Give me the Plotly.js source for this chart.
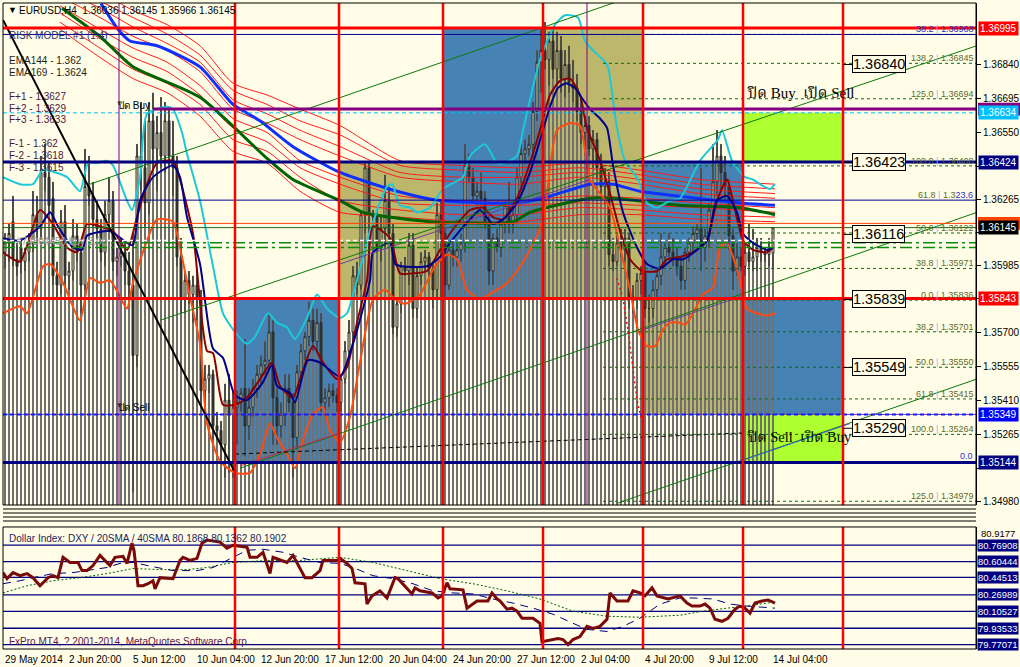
<!DOCTYPE html>
<html><head><meta charset="utf-8">
<script src="https://cdn.plot.ly/plotly-3.0.1.min.js"></script>
<style>html,body{margin:0;padding:0;background:#FFFDE7;}#chart{width:1020px;height:667px;}</style>
</head><body><div id="chart"></div>
<script>
// ---------------- DATA ----------------
const candleOpen = [1.3604,1.3608,1.3617,1.3601,1.3606,1.3600,1.3604,1.3608,1.3620,1.3614,
1.3638,1.3636,1.3627,1.3594,1.3590,1.3617,1.3594,1.3596,1.3611,1.3604,
1.3590,1.3632,1.3628,1.3618,1.3614,1.3604,1.3620,1.3626,1.3600,1.3602,
1.3604,1.3596,1.3590,1.3560,1.3645,1.3640,1.3625,1.3660,1.3648,1.3655,
1.3645,1.3660,1.3645,1.3640,1.3602,1.3584,1.3592,1.3586,1.3590,1.3584,
1.3545,1.3550,1.3552,1.3530,1.3528,1.3522,1.3541,1.3535,1.3538,1.3540,
1.3546,1.3530,1.3538,1.3546,1.3552,1.3556,1.3558,1.3570,1.3542,1.3530,
1.3535,1.3546,1.3540,1.3525,1.3553,1.3562,1.3568,1.3575,1.3566,1.3574,
1.3540,1.3542,1.3545,1.3543,1.3540,1.3550,1.3562,1.3570,1.3594,1.3590,
1.3620,1.3640,1.3620,1.3619,1.3606,1.3614,1.3626,1.3612,1.3572,1.3582,
1.3598,1.3596,1.3607,1.3580,1.3594,1.3600,1.3602,1.3597,1.3588,1.3620,
1.3612,1.3590,1.3605,1.3602,1.3605,1.3608,1.3641,1.3636,1.3628,1.3630,
1.3627,1.3617,1.3596,1.3610,1.3606,1.3616,1.3624,1.3616,1.3620,1.3636,
1.3646,1.3648,1.3650,1.3664,1.3685,1.3690,1.3686,1.3694,1.3682,1.3690,
1.3678,1.3684,1.3676,1.3674,1.3664,1.3655,1.3658,1.3648,1.3652,1.3640,
1.3632,1.3634,1.3603,1.3600,1.3608,1.3605,1.3610,1.3585,1.3584,1.3592,
1.3595,1.3580,1.3580,1.3588,1.3594,1.3602,1.3606,1.3604,1.3602,1.3598,
1.3592,1.3604,1.3608,1.3612,1.3614,1.3606,1.3611,1.3622,1.3634,1.3645,
1.3638,1.3632,1.3611,1.3596,1.3602,1.3598,1.3604,1.3600,1.3602,1.3606,
1.3604,1.3603,1.36036];
const candleHigh = [1.3612,1.3616,1.3628,1.3608,1.3610,1.3606,1.3612,1.3630,1.3628,1.3645,
1.3650,1.3642,1.3634,1.3600,1.3622,1.3624,1.3600,1.3618,1.3616,1.3608,
1.3648,1.3645,1.3634,1.3626,1.3618,1.3626,1.3636,1.3630,1.3606,1.3610,
1.3608,1.3604,1.3612,1.3650,1.3668,1.3660,1.3668,1.3672,1.3662,1.3670,
1.3668,1.3666,1.3660,1.3645,1.3610,1.3596,1.3596,1.3594,1.3596,1.3588,
1.3556,1.3556,1.3554,1.3536,1.3532,1.3548,1.3552,1.3545,1.3545,1.3546,
1.3567,1.3546,1.3550,1.3556,1.3560,1.3566,1.3578,1.3575,1.3546,1.3540,
1.3552,1.3552,1.3544,1.3556,1.3565,1.3570,1.3583,1.3580,1.3580,1.3578,
1.3546,1.3548,1.3548,1.3546,1.3552,1.3566,1.3575,1.3598,1.3600,1.3622,
1.3642,1.3642,1.3622,1.3622,1.3620,1.3637,1.3632,1.3616,1.3584,1.3600,
1.3602,1.3612,1.3612,1.3598,1.3604,1.3605,1.3604,1.3600,1.3625,1.3626,
1.3614,1.3608,1.3610,1.3608,1.3612,1.3650,1.3646,1.3640,1.3634,1.3638,
1.3630,1.3620,1.3612,1.3614,1.3618,1.3626,1.3634,1.3624,1.3640,1.3650,
1.3652,1.3654,1.3668,1.3690,1.3700,1.3702,1.3698,1.3700,1.3698,1.3696,
1.3690,1.3692,1.3686,1.3680,1.3670,1.3662,1.3662,1.3656,1.3655,1.3646,
1.3640,1.3638,1.3610,1.3612,1.3614,1.3614,1.3612,1.3590,1.3595,1.3598,
1.3600,1.3586,1.3592,1.3596,1.3612,1.3608,1.3612,1.3610,1.3606,1.3602,
1.3606,1.3610,1.3615,1.3616,1.3640,1.3614,1.3625,1.3650,1.3656,1.3650,
1.3645,1.3635,1.3614,1.3608,1.3606,1.3608,1.3616,1.3614,1.3610,1.3610,
1.3606,1.3610,1.36145];
const candleLow = [1.3597,1.3600,1.3598,1.3594,1.3595,1.3596,1.3600,1.3604,1.3610,1.3610,
1.3630,1.3620,1.3590,1.3584,1.3586,1.3590,1.3588,1.3592,1.3600,1.3578,
1.3588,1.3624,1.3615,1.3610,1.3600,1.3598,1.3614,1.3596,1.3594,1.3598,
1.3590,1.3585,1.3502,1.3555,1.3630,1.3615,1.3620,1.3640,1.3630,1.3640,
1.3638,1.3640,1.3628,1.3598,1.3578,1.3578,1.3582,1.3574,1.3575,1.3538,
1.3540,1.3544,1.3524,1.3524,1.3515,1.3508,1.3510,1.3508,1.3522,1.3536,
1.3517,1.3524,1.3534,1.3542,1.3548,1.3552,1.3554,1.3522,1.3522,1.3525,
1.3530,1.3536,1.3508,1.3520,1.3550,1.3558,1.3564,1.3562,1.3562,1.3536,
1.3534,1.3538,1.3540,1.3536,1.3536,1.3548,1.3558,1.3566,1.3586,1.3588,
1.3612,1.3598,1.3616,1.3604,1.3600,1.3606,1.3608,1.3569,1.3568,1.3578,
1.3594,1.3590,1.3576,1.3576,1.3590,1.3596,1.3594,1.3580,1.3584,1.3585,
1.3585,1.3588,1.3598,1.3598,1.3600,1.3604,1.3634,1.3625,1.3624,1.3624,
1.3614,1.3590,1.3590,1.3604,1.3602,1.3612,1.3612,1.3612,1.3616,1.3632,
1.3642,1.3645,1.3644,1.3660,1.3672,1.3682,1.3675,1.3678,1.3676,1.3672,
1.3670,1.3672,1.3668,1.3660,1.3650,1.3645,1.3645,1.3640,1.3635,1.3628,
1.3625,1.3598,1.3596,1.3598,1.3602,1.3600,1.3580,1.3578,1.3580,1.3586,
1.3576,1.3574,1.3576,1.3584,1.3590,1.3598,1.3602,1.3598,1.3594,1.3588,
1.3588,1.3600,1.3604,1.3608,1.3596,1.3600,1.3606,1.3618,1.3628,1.3630,
1.3625,1.3605,1.3588,1.3594,1.3596,1.3594,1.3598,1.3596,1.3596,1.3600,
1.3600,1.3598,1.35966];
const candleClose = [1.3608,1.3612,1.3601,1.3598,1.3600,1.3604,1.3608,1.3620,1.3614,1.3638,
1.3636,1.3624,1.3594,1.3590,1.3617,1.3594,1.3596,1.3611,1.3604,1.3590,
1.3632,1.3628,1.3618,1.3614,1.3604,1.3620,1.3626,1.3600,1.3602,1.3604,
1.3596,1.3590,1.3560,1.3645,1.3640,1.3625,1.3660,1.3648,1.3655,1.3645,
1.3660,1.3645,1.3640,1.3602,1.3584,1.3592,1.3586,1.3590,1.3584,1.3545,
1.3550,1.3552,1.3530,1.3528,1.3522,1.3541,1.3535,1.3538,1.3540,1.3544,
1.3530,1.3538,1.3546,1.3552,1.3556,1.3558,1.3570,1.3542,1.3530,1.3535,
1.3546,1.3540,1.3525,1.3553,1.3562,1.3568,1.3575,1.3566,1.3574,1.3540,
1.3542,1.3545,1.3543,1.3540,1.3550,1.3562,1.3570,1.3594,1.3590,1.3620,
1.3640,1.3620,1.3619,1.3606,1.3614,1.3626,1.3612,1.3572,1.3582,1.3598,
1.3596,1.3607,1.3580,1.3594,1.3600,1.3602,1.3597,1.3588,1.3620,1.3612,
1.3590,1.3605,1.3602,1.3605,1.3608,1.3641,1.3636,1.3628,1.3630,1.3627,
1.3617,1.3596,1.3610,1.3606,1.3616,1.3624,1.3616,1.3620,1.3636,1.3646,
1.3648,1.3650,1.3664,1.3685,1.3690,1.3686,1.3694,1.3682,1.3690,1.3678,
1.3684,1.3676,1.3674,1.3664,1.3655,1.3658,1.3648,1.3652,1.3640,1.3632,
1.3634,1.3603,1.3600,1.3608,1.3605,1.3610,1.3585,1.3584,1.3592,1.3595,
1.3580,1.3580,1.3588,1.3594,1.3602,1.3606,1.3604,1.3602,1.3598,1.3592,
1.3604,1.3608,1.3612,1.3614,1.3606,1.3611,1.3622,1.3634,1.3645,1.3638,
1.3632,1.3611,1.3596,1.3602,1.3598,1.3604,1.3600,1.3602,1.3606,1.3604,
1.3603,1.3606,1.36145];

// fast MAs (bar index / price)
const navyX = [-0.5,3.75,8.75,11.25,13.25,17,19.25,20.5,26.25,30.5,32,33.75,37,42,43.75,45.5,48.75,52,54.5,57.5,60.5,64.25,66.75,68,71.25,72.5,75.75,78.75,83.75,87,91.25,92,96.25,97.5,99.25,105.5,108.75,111.25,116.25,118.75,122,124.5,128,131.25,134.5,136.25,138.25,140.25,142.5,144.5,146.25,148.75,150.5,152,154.5,158,160.5,163.75,167,169.5,173,175.5,178,180.5,183,184.5,187,190.5,192];
const navyY = [1.3610,1.3609,1.3615,1.3621,1.3615,1.3606,1.3605,1.3611,1.3613,1.3608,1.3607,1.3626,1.3636,1.3641,1.3636,1.3619,1.3599,1.3563,1.3559,1.3543,1.3541,1.3548,1.3556,1.3547,1.3544,1.3540,1.3558,1.3557,1.3551,1.3565,1.3592,1.3604,1.3608,1.3599,1.3598,1.3598,1.3602,1.3608,1.3618,1.3622,1.3616,1.3618,1.3625,1.3638,1.3656,1.3666,1.3674,1.3676,1.3674,1.3669,1.3665,1.3661,1.3657,1.3641,1.3621,1.3606,1.3599,1.3597,1.3601,1.3601,1.3605,1.3609,1.3626,1.3628,1.3621,1.3612,1.3608,1.3605,1.3606];
const maroonX = [-0.5,3.75,8.75,12,15.5,18,20.5,23.75,27,30.5,33,35.5,38,42,43.75,47,50.5,52,54.5,57.5,60.5,63.75,66.75,68.75,72,73.75,77,79.5,83,85.5,88,90.5,92,96.25,98.75,102,105.5,108.75,111.25,116.25,119.5,122,124.5,128,131.25,133.75,136.25,138.75,141.25,143.75,145.5,148.75,151.25,153.75,156.25,159.25,163,165.5,168.75,172,175.5,178,180.5,182,184.5,187,190.5,192];
const maroonY = [1.3604,1.3600,1.3622,1.3616,1.3606,1.3604,1.3616,1.3615,1.3613,1.3605,1.3619,1.3633,1.3642,1.3643,1.3635,1.3612,1.3562,1.3561,1.3539,1.3539,1.3542,1.3550,1.3557,1.3547,1.3542,1.3550,1.3564,1.3557,1.3550,1.3555,1.3574,1.3592,1.3615,1.3610,1.3595,1.3595,1.3596,1.3605,1.3612,1.3622,1.3623,1.3619,1.3618,1.3627,1.3642,1.3656,1.3671,1.3677,1.3678,1.3671,1.3657,1.3643,1.3629,1.3613,1.3601,1.3596,1.3596,1.3601,1.3602,1.3604,1.3609,1.3626,1.3635,1.3626,1.3609,1.3605,1.3604,1.3606];
const cyanX = [-0.5,3.75,7,9.5,15.5,18.75,20.75,23,25.5,27,30.5,31.75,33.75,35.5,40.5,42,44.25,45.5,48.75,52,54.5,57.5,60.5,62.5,65.75,68,70.5,72.5,75.5,78,80.5,83.75,85.5,87,88,91.25,95.5,96.75,98.75,101.25,103,106.25,109.5,114.5,116.25,120,123,124.5,128,129.5,133.75,137.5,140,143.25,145,147,149.5,150.75,151.75,153,155,158.25,160.5,163,166.25,168.75,173.75,178.25,179.25,181.75,185,187,188.75,191.25,192.5];
const cyanY = [1.3636,1.3633,1.3633,1.3639,1.3636,1.3630,1.3642,1.3642,1.3643,1.3641,1.3626,1.3622,1.3636,1.3663,1.3666,1.3665,1.3655,1.3646,1.3626,1.3598,1.3578,1.3570,1.3565,1.3568,1.3578,1.3574,1.3572,1.3567,1.3576,1.3586,1.3580,1.3576,1.3578,1.3586,1.3592,1.3613,1.3632,1.3633,1.3624,1.3623,1.3621,1.3623,1.3631,1.3636,1.3645,1.3650,1.3642,1.3642,1.3645,1.3656,1.3686,1.3701,1.3705,1.3704,1.3694,1.3690,1.3686,1.3683,1.3672,1.3657,1.3643,1.3635,1.3625,1.3623,1.3626,1.3627,1.3643,1.3652,1.3656,1.3643,1.3636,1.3635,1.3633,1.3631,1.3633];
const orangeX = [-0.5,3.75,5.5,9.5,11.25,14.5,18.75,21.25,23.75,26.25,28.75,30.5,32,35.5,38,42,43.75,46.25,48.75,50.5,53.75,57.5,61.25,63.75,66.25,68,70.5,72.5,74.5,77,79.5,81.25,83.75,86.25,88.75,92,95,97.5,100,103.75,107.5,110.5,113,115.5,118.75,122,125,128,131.25,134.5,138,141.25,143.75,146.25,151.25,153.75,156.25,158.25,160.5,162.5,164.5,166.25,168.75,170,172,174.5,177,178.75,180.5,182,183.75,185.5,188,190.5,192.5];
const orangeY = [1.3578,1.3581,1.3578,1.3598,1.3599,1.3591,1.3575,1.3593,1.3591,1.3592,1.3585,1.3580,1.3591,1.3609,1.3618,1.3617,1.3606,1.3585,1.3565,1.3531,1.3515,1.3510,1.3510,1.3518,1.3531,1.3525,1.3518,1.3512,1.3524,1.3535,1.3538,1.3528,1.3523,1.3534,1.3557,1.3584,1.3588,1.3584,1.3582,1.3586,1.3598,1.3603,1.3601,1.3588,1.3584,1.3587,1.3590,1.3596,1.3605,1.3618,1.3656,1.3659,1.3658,1.3635,1.3623,1.3606,1.3588,1.3571,1.3564,1.3564,1.3571,1.3574,1.3574,1.3573,1.3578,1.3586,1.3589,1.3606,1.3608,1.3602,1.3592,1.3580,1.3578,1.3577,1.3578];

// slow EMAs and the red envelope ribbon
const emaBlueX = [24,28.25,31.25,38,48.75,57,63.75,72,83.75,98,108.75,127,134.5,146.25,152,158.75,173,183.75,192.5];
const emaBlueY = [1.3710,1.3699,1.3694,1.3692,1.3683,1.3667,1.3660,1.3649,1.3638,1.3630,1.3626,1.3625,1.3627,1.3633,1.3633,1.3630,1.3627,1.3625,1.3624];
const emaGreenX = [14.25,23.75,32,48.75,65.5,72,83.75,89.5,106.25,127,131.25,146.25,152,168.75,183.75,192.5];
const emaGreenY = [1.3708,1.3696,1.3683,1.3670,1.3644,1.3635,1.3626,1.3621,1.3617,1.3617,1.3621,1.3627,1.3627,1.3624,1.3623,1.3620];
const ribbonX = [13.75,23.75,32,40.5,48.75,57,65.5,73.75,83.75,98.75,113.75,128.75,143.75,158.75,173.75,192.5];
const ribbonF1 = [1.3722,1.3715,1.3707,1.3701,1.3692,1.3676,1.3671,1.3665,1.3658,1.3643,1.3641,1.3640,1.3642,1.3639,1.3635,1.3633];
const ribbonF2 = [1.3719,1.3711,1.3704,1.3697,1.3688,1.3673,1.3667,1.3660,1.3654,1.3641,1.3639,1.3638,1.3640,1.3637,1.3633,1.3631];
const ribbonF3 = [1.3716,1.3708,1.3700,1.3693,1.3685,1.3669,1.3663,1.3656,1.3649,1.3638,1.3636,1.3636,1.3638,1.3635,1.3631,1.3629];
const ribbonF4 = [1.3713,1.3704,1.3696,1.3690,1.3681,1.3665,1.3659,1.3652,1.3645,1.3636,1.3634,1.3633,1.3636,1.3633,1.3629,1.3627];
const ribbonF5 = [1.3709,1.3699,1.3691,1.3685,1.3675,1.3661,1.3655,1.3643,1.3636,1.3628,1.3626,1.3626,1.3628,1.3627,1.3625,1.3623];
const ribbonF6 = [1.3706,1.3695,1.3687,1.3681,1.3671,1.3657,1.3651,1.3640,1.3633,1.3625,1.3624,1.3624,1.3625,1.3624,1.3623,1.3621];
const ribbonF7 = [1.3702,1.3691,1.3682,1.3676,1.3667,1.3652,1.3647,1.3636,1.3626,1.3622,1.3620,1.3620,1.3623,1.3622,1.3620,1.3619];
const ribbonF8 = [1.3699,1.3687,1.3678,1.3672,1.3662,1.3647,1.3642,1.3630,1.3621,1.3619,1.3617,1.3617,1.3620,1.3620,1.3618,1.3617];

// trend / channel lines (bar index, price)
const blackTrendX = [-0.5,57.25], blackTrendY = [1.3703,1.3511];
const channel1X = [21.25,173.75], channel1Y = [1.3633,1.3723];
const channel2X = [38.75,243], channel2Y = [1.3575,1.3692];
const channel3X = [58.75,243], channel3Y = [1.3512,1.3621];
const channel4X = [153,243], channel4Y = [1.3497,1.3550];
const purple1X = [83.75,146.25], purple1Y = [1.3599,1.3635];
const purple2X = [159.5,183.75], purple2Y = [1.3571,1.3585];
const crimsonX = [58.75,83.75], crimsonY = [1.3513,1.3527];
const blueTrendX = [183.75,211.25], blueTrendY = [1.3515,1.3531];
const dashTrendX = [57.5,184.5], dashTrendY = [1.3518,1.3527];
const sarX = [153,154.5,155.75,157,158,159.25], sarY = [1.3593,1.3584,1.3571,1.3554,1.3541,1.3532];

// horizontal levels
const redLevels = [1.36995,1.35843];
const navyThickLevels = [1.36424,1.35144];
const navyThinLevels = [1.36968,1.36262];
const purpleLevel = 1.3665, purpleStart = 37;
const cyanLevel = 1.36634;
const orangeLevel = 1.36163;
const bidLevel = 1.36145;
const whiteDashLevel = 1.3609;
const greenDashLevels = [1.3608,1.3606];
const blueDashLevel = 1.35349;

// time separators and zones
const redVLines = [57.5,83.5,109.5,134.5,159.5,184.5,209.5];
const purpleVLines = [28.5,145.5];
const zoneX0 = [57.5,83.5,109.5,134.5,159.5,159.5,184.5,184.5,184.5];
const zoneX1 = [83.5,109.5,134.5,159.5,184.5,184.5,209.5,209.5,209.5];
const zoneTop = [1.35843,1.36424,1.36995,1.36995,1.36424,1.35843,1.35843,1.35349,1.36634];
const zoneBottom = [1.35144,1.35843,1.35843,1.35843,1.35843,1.35349,1.35349,1.35144,1.36424];
const zoneKind = ['blue','khaki','blue','khaki','blue','khaki','blue','lime','lime'];

// fibonacci levels
const fibLevels = [1.36968,1.36845,1.36694,1.36408,1.36122,1.35971,1.35836,1.35701,1.35550,1.35415,1.35264,1.34979];
const fibPct = ['38.2','138.2','125.0','100.0','50.0','38.8','0.0','38.2','50.0','61.8','100.0','125.0'];
const fibStart = 149.5;

// boxed price marks
const priceMarks = [1.36840,1.36423,1.36116,1.35839,1.35549,1.35290];

// right axis
const yTickVals = [1.36840,1.36695,1.36550,1.36405,1.36265,1.36125,1.35985,1.35845,1.35700,1.35555,1.35410,1.35265,1.35120,1.34980];
const yTickHidden = [1.36405,1.36125,1.35845,1.35120];   // labels covered by the coloured price boxes
const axisBoxVals = [1.36995,1.36634,1.36424,1.36145,1.35843,1.35349,1.35144];
const axisBoxKind = ['red','cyan','navy','black','red','blue','navy'];
const hiddenBoxVals = [1.3665,1.36163];
const hiddenBoxKind = ['purple','orange'];

// time axis labels
const timeLabelBars = [-0.5,15.5,31.5,47.5,63.5,79.5,95.5,111.5,127.5,143.5,159.5,175.5,191.5];
const timeLabels = ['29 May 2014','2 Jun 20:00','5 Jun 12:00','10 Jun 04:00','12 Jun 20:00','17 Jun 12:00','20 Jun 04:00','24 Jun 20:00','27 Jun 12:00','2 Jul 04:00','4 Jul 20:00','9 Jul 12:00','14 Jul 04:00'];

// Dollar index subwindow
const dxyX = [-0.5,0.5,2,3.75,5.5,7,8.75,9.5,10.75,12,13.25,14.5,16.25,18.25,19.25,20.5,22,23.75,25.5,26.25,27.5,29.5,30.5,31.75,32.25,33.25,34.5,35.75,37,37.5,38.75,42,43.75,44.5,46.25,48,49.25,50.5,53.75,55.5,57,60.5,61.25,63,64.5,66.25,67,70.5,72,73.75,75,76.75,78.75,79.5,83,83.75,85.5,86.75,87.5,90,90.5,91.75,93.75,95.5,97,97.5,98.25,100.5,101.75,102.5,103.75,106.75,108.25,109.25,110.5,111.25,114.5,115.5,118,120.75,121.75,123,123.75,125.5,126.75,128,129.25,132,133.75,134.25,137,138.25,139.5,140.75,142,143.75,145.5,147,148.75,150.5,151.25,153,155.75,157,158.75,160,161.75,163,165.75,168.75,170.5,171.75,173.75,175,176.25,177.5,179.25,180.75,182.5,183.75,185,186.25,187.5,189.25,190.75,192.5];
const dxyY = [80.494,80.433,80.494,80.463,80.484,80.443,80.362,80.392,80.443,80.463,80.443,80.647,80.596,80.596,80.514,80.514,80.565,80.667,80.596,80.565,80.647,80.657,80.586,80.790,80.718,80.362,80.362,80.382,80.412,80.331,80.443,80.433,80.616,80.647,80.616,80.637,80.790,80.820,80.800,80.739,80.769,80.749,80.647,80.647,80.698,80.484,80.647,80.596,80.667,80.545,80.443,80.443,80.514,80.616,80.616,80.637,80.586,80.535,80.392,80.382,80.178,80.260,80.311,80.239,80.392,80.443,80.433,80.331,80.280,80.341,80.311,80.290,80.239,80.260,80.392,80.331,80.321,80.137,80.209,80.209,80.290,80.229,80.209,80.127,80.137,80.107,80.036,80.036,79.985,79.801,79.822,79.832,79.822,79.771,79.822,79.852,79.954,79.934,79.954,80.025,80.290,80.209,80.209,80.311,80.290,80.260,80.341,80.260,80.229,80.260,80.188,80.158,80.158,80.178,80.137,80.025,80.005,80.036,80.127,80.158,80.137,80.087,80.188,80.209,80.219,80.188];
const sma20X = [-0.5,3.75,7,12,17,22,25.5,28.75,32,38,42,48,52,57,60.5,64.5,69.5,73.75,78.75,83.75,87,92,97,102,107,112,117,122,127,132,137,142,145.5,150.5,154.5,158.75,163.75,168.75,172,177,181.25,185.5,190.5,192.5];
const sma20Y = [80.382,80.412,80.443,80.484,80.494,80.524,80.545,80.586,80.596,80.545,80.514,80.514,80.545,80.647,80.718,80.728,80.698,80.647,80.596,80.586,80.545,80.463,80.433,80.382,80.311,80.290,80.280,80.229,80.188,80.137,80.076,79.985,79.924,79.903,79.954,80.036,80.178,80.239,80.239,80.229,80.178,80.158,80.148,80.137];
const sma40X = [-0.5,5.5,12,18.75,25.5,32,38.75,45.5,50.5,57,65.5,73.75,83.75,92,100.5,108.75,117,125.5,133.75,142,150.5,158.75,168.75,174.5,180.5,185.5,190.5,192.5];
const sma40Y = [80.290,80.362,80.412,80.443,80.484,80.535,80.524,80.524,80.545,80.596,80.616,80.616,80.647,80.596,80.514,80.433,80.382,80.311,80.229,80.107,80.056,80.046,80.066,80.107,80.137,80.158,80.188,80.199];
const dxyLevels = [80.76908,80.60444,80.44513,80.26989,80.10527,79.93533,79.77071];
const dxyTop = 80.9177;

// ---------------- STYLE / LAYOUT ----------------
const W = 1020, H = 667, ML = 3, MR = 44, MT = 3, MB = 18;
const PW = W - ML - MR, PH = H - MT - MB;
const X_RANGE = [-0.5, 242.75];
const MAIN_RANGE = [1.34963, 1.37102];
const DXY_RANGE = [79.727, 80.952];
const MAIN_DOMAIN = [0.2229, 1];
const DXY_DOMAIN = [0, 0.1889];
const px = p => (p - ML) / PW;             // pixel -> paper x (static text placement only)
const py = p => (H - MB - p) / PH;         // pixel -> paper y
const FONT = 'Liberation Sans, Arial, sans-serif';
const THAI_FONT = 'Liberation Serif, Noto Serif Thai, Noto Sans Thai, serif';
const HIST_BASE = 1.3490;
const BOX_HALF = 0.00027;                  // half height of a right-axis price box

const ZONE_COL = {blue:'#4682B4', khaki:'#BDB76B', lime:'#ADFF2F'};
const BOX_COL = {purple:'#800080', red:'#FF0000', cyan:'#00BFFF', navy:'#000080', orange:'#FF4500', black:'#000000', blue:'#0000FF'};

const barIndex = candleClose.map((_, i) => i);
const traces = [];
traces.push({type:'bar', x:barIndex, y:candleHigh.map(h => h - HIST_BASE), base:HIST_BASE, width:0.28,
  marker:{color:'#707070', line:{width:0}}, hoverinfo:'skip', xaxis:'x', yaxis:'y'});
traces.push({type:'candlestick', x:barIndex, open:candleOpen, high:candleHigh, low:candleLow, close:candleClose,
  increasing:{line:{color:'#2a2a2a', width:1}, fillcolor:'#EFE9B4'},
  decreasing:{line:{color:'#2a2a2a', width:1}, fillcolor:'#383838'},
  whiskerwidth:0, hoverinfo:'skip', xaxis:'x', yaxis:'y'});
const line = (x, y, color, width, dash, shape) => ({type:'scatter', mode:'lines', x, y,
  line:{color, width, dash:dash||'solid', shape:shape||'linear', smoothing:0.6}, hoverinfo:'skip', xaxis:'x', yaxis:'y'});
[ribbonF1,ribbonF2,ribbonF3,ribbonF4,ribbonF5,ribbonF6,ribbonF7,ribbonF8].forEach(r => traces.push(line(ribbonX, r, '#FF1A1A', 1, 'solid', 'spline')));
traces.push(line(emaGreenX, emaGreenY, '#006400', 3, 'solid', 'spline'));
traces.push(line(emaBlueX, emaBlueY, '#1030FF', 3, 'solid', 'spline'));
traces.push(line(cyanX, cyanY, '#1CC8D8', 2, 'solid', 'spline'));
traces.push(line(orangeX, orangeY, '#FF4A10', 2, 'solid', 'spline'));
traces.push(line(maroonX, maroonY, '#8B0000', 2, 'solid', 'spline'));
traces.push(line(navyX, navyY, '#00008B', 2, 'solid', 'spline'));
traces.push(line(blackTrendX, blackTrendY, '#000000', 2));
[[channel1X,channel1Y],[channel2X,channel2Y],[channel3X,channel3Y],[channel4X,channel4Y]].forEach(c => traces.push(line(c[0], c[1], '#0B7A0B', 1)));
traces.push(line(purple1X, purple1Y, '#6A3D9A', 1));
traces.push(line(purple2X, purple2Y, '#6A3D9A', 1));
traces.push(line(crimsonX, crimsonY, '#C8285A', 1));
traces.push(line(blueTrendX, blueTrendY, '#4060E0', 1));
traces.push(line(dashTrendX, dashTrendY, '#000000', 1, '4px,3px'));
traces.push(line(sarX, sarY, '#FF0000', 1.5, '2px,3px'));
const dl = (x, y, color, width, dash) => ({type:'scatter', mode:'lines', x, y, line:{color, width, dash:dash||'solid'}, hoverinfo:'skip', xaxis:'x', yaxis:'y2'});
traces.push(dl(sma40X, sma40Y, '#006400', 1, '2px,2px'));
traces.push(dl(sma20X, sma20Y, '#000080', 1, '8px,6px'));
traces.push(dl(dxyX, dxyY, '#7A0A0A', 3));

// ---------------- SHAPES ----------------
const shapes = [];
zoneX0.forEach((x0, i) => shapes.push({type:'rect', xref:'x', yref:'y', x0, x1:zoneX1[i], y0:zoneBottom[i], y1:zoneTop[i],
  fillcolor:ZONE_COL[zoneKind[i]], line:{width:0}, layer:'below'}));
const hline = (y, color, width, dash, x0ref) => shapes.push({type:'line', xref: x0ref === undefined ? 'x domain' : 'x', yref:'y',
  x0: x0ref === undefined ? 0 : x0ref, x1: x0ref === undefined ? 1 : X_RANGE[1], y0:y, y1:y, line:{color, width, dash:dash||'solid'}, layer:'above'});
fibLevels.forEach(v => hline(v, '#0B6B0B', 1, '3px,3px', fibStart));
hline(whiteDashLevel, '#FFFFFF', 1.5, '4px,3px');
greenDashLevels.forEach(v => hline(v, '#0B8B0B', 1.5, '12px,4px,3px,4px'));
hline(orangeLevel, '#FF4500', 1);
hline(bidLevel, '#1C6B1C', 1);
navyThinLevels.forEach(v => hline(v, '#000090', 1));
hline(cyanLevel, '#00BFFF', 1, '4px,3px');
hline(blueDashLevel, '#7B2FA0', 1);
hline(blueDashLevel, '#1020FF', 2, '4px,3px');
hline(purpleLevel, '#800080', 3, 'solid', purpleStart);
navyThickLevels.forEach(v => hline(v, '#000080', 3));
redLevels.forEach(v => hline(v, '#FF0000', 3));
purpleVLines.forEach(x => shapes.push({type:'line', xref:'x', yref:'y domain', x0:x, x1:x, y0:0, y1:1, line:{color:'#800080', width:1}, layer:'above'}));
redVLines.forEach(x => {
  shapes.push({type:'line', xref:'x', yref:'y domain', x0:x, x1:x, y0:0, y1:1, line:{color:'#FF0000', width:2.5}, layer:'above'});
  shapes.push({type:'line', xref:'x', yref:'y2 domain', x0:x, x1:x, y0:0, y1:1, line:{color:'#FF0000', width:2.5}, layer:'above'});
});
priceMarks.forEach(v => shapes.push({type:'line', xref:'x', yref:'y', x0:redVLines[6], x1:redVLines[6] + 2.3, y0:v, y1:v, line:{color:'#000', width:1}, layer:'above'}));
dxyLevels.forEach(v => shapes.push({type:'line', xref:'x domain', yref:'y2', x0:0, x1:1, y0:v, y1:v, line:{color:'#000080', width:1.3}, layer:'below'}));
hiddenBoxVals.forEach((v, i) => shapes.push({type:'rect', xref:'paper', yref:'y', x0:1.002, x1:1.05, y0:v - BOX_HALF, y1:v + BOX_HALF,
  fillcolor:BOX_COL[hiddenBoxKind[i]], line:{width:0}}));
shapes.push({type:'rect', xref:'x domain', yref:'y domain', x0:0, x1:1, y0:0, y1:1, line:{color:'#000', width:1}, layer:'above'});
shapes.push({type:'rect', xref:'x domain', yref:'y2 domain', x0:0, x1:1, y0:0, y1:1, line:{color:'#000', width:1}, layer:'above'});
[509, 513, 517, 521].forEach(p => shapes.push({type:'line', xref:'paper', yref:'paper', x0:0, x1:1, y0:py(p), y1:py(p), line:{color:'#000', width:1}}));

// ---------------- ANNOTATIONS ----------------
const ann = [];
const txt = (text, x, y, opts) => ann.push(Object.assign({text, x, y, xref:'paper', yref:'paper', xanchor:'left', yanchor:'middle', showarrow:false,
  font:{family:FONT, size:10, color:'#000'}}, opts||{}));
txt('▼', px(6), py(10), {font:{family:FONT, size:9, color:'#000'}});
txt('EURUSD,H4  1.36036 1.36145 1.35966 1.36145', px(17), py(10));
txt('RISK MODEL #1 (1:4)', px(7), py(35), {font:{family:FONT, size:10, color:'#2F2F6A'}});
txt('EMA144 - 1.362', px(7), py(60), {font:{family:FONT, size:10, color:'#1E2418'}});
txt('EMA169 - 1.3624', px(7), py(72), {font:{family:FONT, size:10, color:'#1E2418'}});
['F+1 - 1.3627','F+2 - 1.3629','F+3 - 1.3633'].forEach((t,i) => txt(t, px(7), py(96 + 12*i), {font:{family:FONT, size:10, color:'#4A1838'}}));
['F-1 - 1.362','F-2 - 1.3618','F-3 - 1.3615'].forEach((t,i) => txt(t, px(7), py(144 + 12*i), {font:{family:FONT, size:10, color:'#4A1838'}}));
txt('#74804450 buy 3.00', px(14), py(241), {font:{family:FONT, size:10, color:'#9A9A9A'}});
txt('ปิด Buy', px(115), py(106), {font:{family:FONT, size:10, color:'#000'}});
txt('ปิด Sell', px(115), py(407), {font:{family:FONT, size:10, color:'#000'}});
txt('ปิด Buy  เปิด Sell', px(745), py(93), {font:{family:THAI_FONT, size:15, color:'#000'}});
txt('ปิด Sell  เปิด Buy', px(745), py(437), {font:{family:THAI_FONT, size:14.5, color:'#000'}});
txt('Dollar Index: DXY / 20SMA / 40SMA 80.1868 80.1362 80.1902', px(7), py(538), {font:{family:FONT, size:10, color:'#24245C'}});
txt('FxPro MT4, ? 2001-2014, MetaQuotes Software Corp.', px(7), py(641), {font:{family:FONT, size:10, color:'#5A1848'}});
const PIPE = '<span style="color:#8EB8E8"> | </span>';
fibLevels.forEach((v, i) => {
  const col = i === 0 ? '#2E2EC8' : '#5B6B2A';
  ann.push({text: fibPct[i] + PIPE + v.toFixed(5), x:1, y:v, xref:'paper', yref:'y', xanchor:'right', yanchor:'bottom', yshift:-2, xshift:-1,
    showarrow:false, font:{family:FONT, size:9, color:col}});
});
ann.push({text:'61.8' + PIPE + '1.3<span style="color:#2E2EC8">23.6</span>', x:1, y:navyThinLevels[1], xref:'paper', yref:'y', xanchor:'right', yanchor:'bottom', yshift:-2, xshift:-1,
  showarrow:false, font:{family:FONT, size:9, color:'#5B6B2A'}});
ann.push({text:'0.0', x:1, y:navyThickLevels[1], xref:'paper', yref:'y', xanchor:'right', yanchor:'bottom', xshift:-1, showarrow:false, font:{family:FONT, size:9, color:'#2E2EC8'}});
priceMarks.forEach(v => ann.push({text:v.toFixed(5), x:redVLines[6] + 2.3, y:v, xref:'x', yref:'y', xanchor:'left', yanchor:'middle', showarrow:false,
  bgcolor:'#FFFDE7', bordercolor:'#000', borderwidth:1, borderpad:0, font:{family:FONT, size:14.5, color:'#000'}}));
axisBoxVals.forEach((v, i) => ann.push({text:v.toFixed(5), x:1, y:v, xref:'paper', yref:'y', xanchor:'left', yanchor:'middle', xshift:2, showarrow:false,
  bgcolor:BOX_COL[axisBoxKind[i]], borderpad:1, font:{family:FONT, size:10, color:'#FFFFFF'}}));
dxyLevels.forEach(v => ann.push({text:v.toFixed(5), x:1, y:v, xref:'paper', yref:'y2', xanchor:'left', yanchor:'middle', xshift:1, showarrow:false,
  bgcolor:'#000080', borderpad:0, font:{family:FONT, size:9.5, color:'#FFFFFF'}}));
ann.push({text:dxyTop.toFixed(4), x:1, y:dxyTop, xref:'paper', yref:'y2', xanchor:'left', yanchor:'middle', xshift:3, yshift:-3, showarrow:false, font:{family:FONT, size:9.5, color:'#000'}});
timeLabelBars.forEach((b, i) => ann.push({text:timeLabels[i], x:b, y:0, xref:'x', yref:'paper', xanchor:'left', yanchor:'top', yshift:-3, showarrow:false,
  font:{family:FONT, size:10, color:'#000'}}));

const layout = {
  width:W, height:H, margin:{l:ML, r:MR, t:MT, b:MB, pad:0},
  paper_bgcolor:'#FFFDE7', plot_bgcolor:'#FFFDE7', showlegend:false, bargap:0,
  xaxis:{range:X_RANGE, anchor:'y2', showgrid:false, zeroline:false, showticklabels:false, ticks:'', showline:false, rangeslider:{visible:false}, fixedrange:true},
  yaxis:{domain:MAIN_DOMAIN, range:MAIN_RANGE, side:'right', anchor:'x', showgrid:false, zeroline:false, showline:true, linecolor:'#000', linewidth:1,
    tickvals:yTickVals, ticktext:yTickVals.map(v => yTickHidden.includes(v) ? '' : v.toFixed(5)), ticks:'outside', ticklen:4, tickcolor:'#000',
    tickfont:{family:FONT, size:10, color:'#000'}},
  yaxis2:{domain:DXY_DOMAIN, range:DXY_RANGE, side:'right', anchor:'x', showgrid:false, zeroline:false, showline:true, linecolor:'#000',
    showticklabels:false, ticks:''},
  shapes, annotations:ann
};
Plotly.newPlot('chart', traces, layout, {staticPlot:true, displayModeBar:false});
</script>
</body></html>
